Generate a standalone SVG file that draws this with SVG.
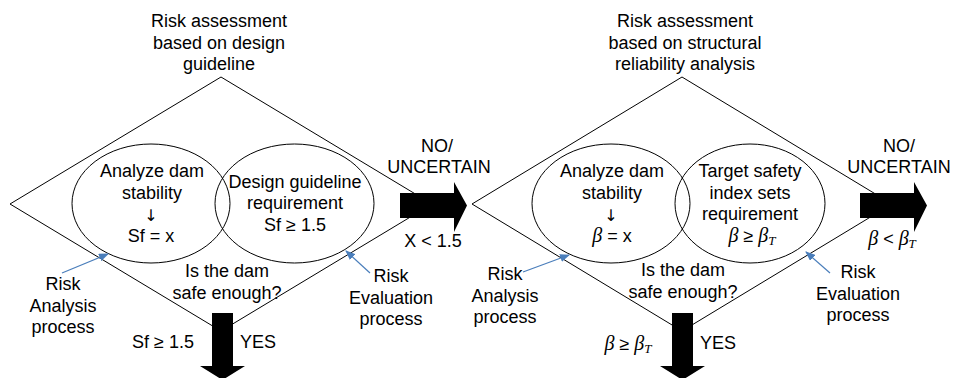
<svg xmlns="http://www.w3.org/2000/svg" width="953" height="378" viewBox="0 0 953 378">
<defs>
<style>
text{font-family:"Liberation Sans",Arial,sans-serif;font-size:18px;fill:#000;text-anchor:middle}
.sym{font-family:"Liberation Serif","Times New Roman",serif;font-style:italic;font-size:20px}
.sub{font-family:"Liberation Serif","Times New Roman",serif;font-style:italic;font-size:13px}
.arr{font-family:"DejaVu Sans",sans-serif;font-size:16px;fill:#000}
.outline{fill:none;stroke:#000;stroke-width:1}
.bigarrow{fill:#000;stroke:none}
.blue{stroke:#4a7ebb;stroke-width:1.2;fill:none}
</style>
<marker id="bh" markerWidth="10" markerHeight="8" refX="9" refY="4" orient="auto" markerUnits="userSpaceOnUse">
<path d="M0,0 L10,4 L0,8 Z" fill="#4a7ebb"/>
</marker>
</defs>

<g id="diamond1">
<polygon class="outline" points="221,77 432,204 221,331 10,204"/>
<text x="219" y="27">Risk assessment</text>
<text x="219" y="48.5">based on design</text>
<text x="219" y="70">guideline</text>
<text x="227" y="277">Is the dam</text>
<text x="227" y="298.5">safe enough?</text>
</g>
<g id="analysis1">
<ellipse class="outline" cx="151" cy="203.5" rx="79" ry="59.5"/>
<text x="152" y="177">Analyze dam</text>
<text x="152" y="198.5">stability</text>
<text class="arr" x="151" y="221">↓</text>
<text x="151" y="241.5">Sf = x</text>
</g>
<g id="evaluation1">
<ellipse class="outline" cx="294.5" cy="203.5" rx="79.5" ry="59.5"/>
<text x="295" y="187.5">Design guideline</text>
<text x="295" y="209">requirement</text>
<text x="295" y="230.5">Sf ≥ 1.5</text>
</g>
<g id="labels1">
<text x="63" y="290">Risk</text>
<text x="63" y="311.5">Analysis</text>
<text x="63" y="333">process</text>
<text x="391" y="282">Risk</text>
<text x="391" y="303.5">Evaluation</text>
<text x="391" y="325">process</text>
<text x="437" y="152">NO/</text>
<text x="439" y="173">UNCERTAIN</text>
<text x="433" y="247">X &lt; 1.5</text>
<text x="163" y="348">Sf ≥ 1.5</text>
<text x="258" y="348">YES</text>
</g>

<g id="diamond2">
<polygon class="outline" points="682,77 892,204 682,331 472,204"/>
<text x="685" y="27">Risk assessment</text>
<text x="685" y="48.5">based on structural</text>
<text x="685" y="70">reliability analysis</text>
<text x="683" y="276">Is the dam</text>
<text x="683" y="297.5">safe enough?</text>
</g>
<g id="analysis2">
<ellipse class="outline" cx="611" cy="203.5" rx="79" ry="59.5"/>
<text x="612" y="177">Analyze dam</text>
<text x="612" y="198.5">stability</text>
<text class="arr" x="611" y="221">↓</text>
<text x="612" y="241.5"><tspan class="sym">β</tspan> = x</text>
</g>
<g id="evaluation2">
<ellipse class="outline" cx="750" cy="203.5" rx="75" ry="59.5"/>
<text x="750" y="177">Target safety</text>
<text x="750" y="198.5">index sets</text>
<text x="750" y="220">requirement</text>
<text x="752" y="241.5"><tspan class="sym">β</tspan> ≥ <tspan class="sym">β</tspan><tspan class="sub" dy="3">T</tspan></text>
</g>
<g id="labels2">
<text x="505" y="280">Risk</text>
<text x="505" y="301.5">Analysis</text>
<text x="505" y="323">process</text>
<text x="858" y="278">Risk</text>
<text x="858" y="299.5">Evaluation</text>
<text x="858" y="321">process</text>
<text x="899" y="152">NO/</text>
<text x="899" y="173">UNCERTAIN</text>
<text x="892" y="245"><tspan class="sym">β</tspan> &lt; <tspan class="sym">β</tspan><tspan class="sub" dy="3">T</tspan></text>
<text x="628" y="350"><tspan class="sym">β</tspan> ≥ <tspan class="sym">β</tspan><tspan class="sub" dy="3">T</tspan></text>
<text x="718" y="349">YES</text>
</g>

<g id="connectors">
<polygon class="bigarrow" points="400,193 454,193 454,182 467,205.5 454,232 454,218 400,218"/>
<polygon class="bigarrow" points="212,313 233,313 233,366 245,366 222.5,380 200,366 212,366"/>
<polygon class="bigarrow" points="860,193 914,193 914,182 927,205.5 914,232 914,218 860,218"/>
<polygon class="bigarrow" points="672,313 693,313 693,366 705,366 682.5,380 660,366 672,366"/>
<line class="blue" x1="62" y1="273" x2="108" y2="254" marker-end="url(#bh)"/>
<line class="blue" x1="370" y1="273" x2="346" y2="251" marker-end="url(#bh)"/>
<line class="blue" x1="523" y1="272" x2="569" y2="255" marker-end="url(#bh)"/>
<line class="blue" x1="830" y1="273" x2="806" y2="252" marker-end="url(#bh)"/>
</g>
</svg>
